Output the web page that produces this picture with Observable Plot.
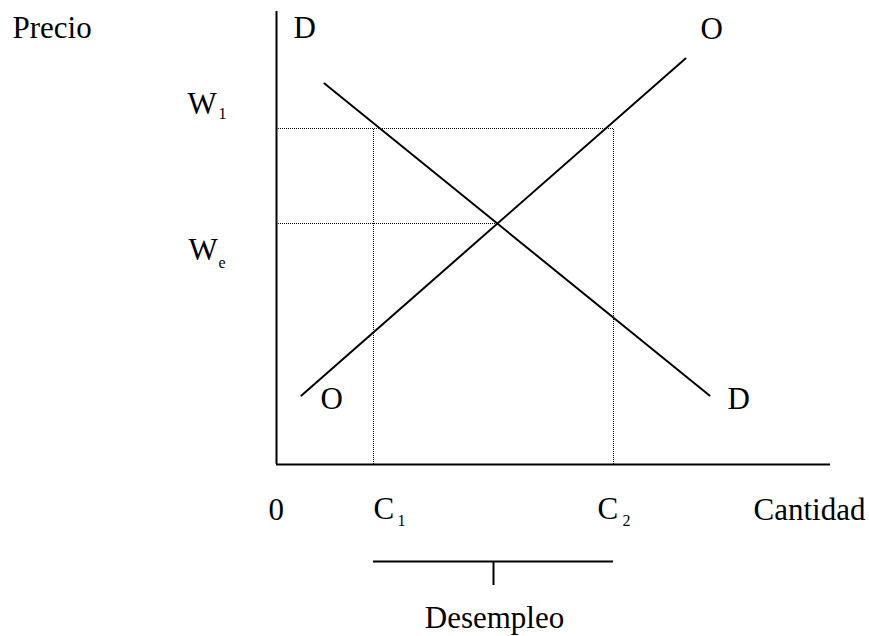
<!DOCTYPE html>
<html><head><meta charset="utf-8">
<script src="https://cdn.jsdelivr.net/npm/d3@7"></script>
<script src="https://cdn.jsdelivr.net/npm/@observablehq/plot@0.6"></script>
<style>body{margin:0;background:#fff}</style>
</head><body><div id="chart"></div>
<script>
// Conceptual units: quantity (x) and price/wage (y)
const xMax = 110.8, yMax = 90.6;
const C1 = 19.4, C2 = 67.4, Qe = 44.4;
const W1 = 67.2, We = 48.2;
const demand = [{q: 9.6, p: 76.2}, {q: 86.6, p: 13.8}];
const supply = [{q: 5.0, p: 13.8}, {q: 81.8, p: 81.2}];
const bracketY = -19.4, bracketTick = -24.2, bracketMid = 43.4;

const startLabels = [
  {q: -52.8, p: 85.4, t: "Precio"},
  {q: 3.4, p: 85.4, t: "D"},
  {q: 84.8, p: 85.2, t: "O"},
  {q: 8.8, p: 11.2, t: "O"},
  {q: 90.2, p: 11.2, t: "D"},
  {q: -1.6, p: -11, t: "0"},
  {q: 95.4, p: -11, t: "Cantidad"}
];
const middleLabels = [
  {q: 43.6, p: -32.6, t: "Desempleo"}
];
const mainSub = [
  {q: -17.8, p: 70.2, t: "W", s: "1", sq: -11.6, sp: 69.2},
  {q: -17.6, p: 41.0, t: "W", s: "e", sq: -11.6, sp: 39.4},
  {q: 19.4, p: -10.8, t: "C", s: "1", sq: 24.2, sp: -12.2},
  {q: 64.2, p: -10.8, t: "C", s: "2", sq: 69.2, sp: -12.2}
];

const font = "'Liberation Serif', 'Times New Roman', serif";
const plot = Plot.plot({
  width: 869, height: 636,
  margin: 0,
  x: {domain: [0, xMax], range: [276, 830], axis: null},
  y: {domain: [0, yMax], range: [464, 11], axis: null},
  style: {fontFamily: font, background: "#fff", overflow: "visible"},
  marks: [
    // dotted guides
    Plot.ruleY([W1], {x1: 0, x2: C2, stroke: "#000", strokeWidth: 1, strokeDasharray: "1,1"}),
    Plot.ruleY([We], {x1: 0, x2: Qe, stroke: "#000", strokeWidth: 1, strokeDasharray: "1,1"}),
    Plot.ruleX([C1, C2], {y1: 0, y2: W1, stroke: "#000", strokeWidth: 1, strokeDasharray: "1,1"}),
    // axes
    Plot.ruleX([0], {y1: 0, y2: yMax, stroke: "#000", strokeWidth: 2}),
    Plot.ruleY([0], {x1: 0, x2: xMax, stroke: "#000", strokeWidth: 2}),
    // curves
    Plot.line(demand, {x: "q", y: "p", stroke: "#000", strokeWidth: 2}),
    Plot.line(supply, {x: "q", y: "p", stroke: "#000", strokeWidth: 2}),
    // bracket
    Plot.ruleY([bracketY], {x1: C1, x2: C2, stroke: "#000", strokeWidth: 2}),
    Plot.ruleX([bracketMid], {y1: bracketTick, y2: bracketY, stroke: "#000", strokeWidth: 2}),
    // labels
    Plot.text(startLabels, {x: "q", y: "p", text: "t", textAnchor: "start", lineAnchor: "bottom", fontSize: 31, fill: "#000"}),
    Plot.text(middleLabels, {x: "q", y: "p", text: "t", textAnchor: "middle", lineAnchor: "bottom", fontSize: 31, fill: "#000"}),
    Plot.text(mainSub, {x: "q", y: "p", text: "t", textAnchor: "start", lineAnchor: "bottom", fontSize: 31, fill: "#000"}),
    Plot.text(mainSub, {x: "sq", y: "sp", text: "s", textAnchor: "start", lineAnchor: "bottom", fontSize: 16, fill: "#000"})
  ]
});
document.getElementById("chart").appendChild(plot);
</script>
</body></html>
